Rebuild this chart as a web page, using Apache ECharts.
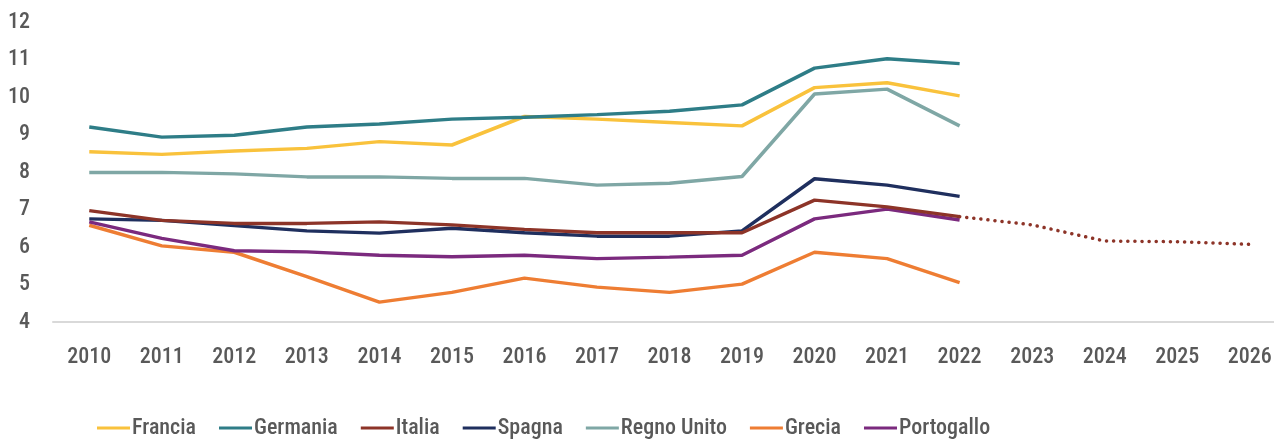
<!DOCTYPE html>
<html>
<head>
<meta charset="utf-8">
<script src="https://cdn.jsdelivr.net/npm/echarts@6/dist/echarts.min.js"></script>
<style>
  html, body { margin: 0; padding: 0; background: #fff; overflow: hidden; }
  /* a bit wider than the window: the last category band runs past the right edge */
  #chart { width: 1286px; height: 439px; }
</style>
</head>
<body>
<div id="chart"></div>
<script>
const years = ['2010', '2011', '2012', '2013', '2014', '2015', '2016', '2017', '2018',
  '2019', '2020', '2021', '2022', '2023', '2024', '2025', '2026'];

const francia = [8.54, 8.47, 8.56, 8.63, 8.81, 8.72, 9.48, 9.41, 9.32, 9.23, 10.25, 10.38, 10.03];
const germania = [9.2, 8.93, 8.98, 9.2, 9.28, 9.41, 9.46, 9.53, 9.62, 9.79, 10.77, 11.02, 10.89];
const italia = [6.97, 6.71, 6.63, 6.63, 6.67, 6.59, 6.47, 6.38, 6.38, 6.38, 7.25, 7.07, 6.81];
const italiaPrev = [null, null, null, null, null, null, null, null, null, null, null, null,
  6.81, 6.59, 6.16, 6.14, 6.07];
const spagna = [6.75, 6.71, 6.57, 6.43, 6.37, 6.5, 6.38, 6.29, 6.29, 6.43, 7.82, 7.65, 7.35];
const regnoUnito = [7.99, 7.99, 7.95, 7.87, 7.87, 7.83, 7.83, 7.65, 7.7, 7.88, 10.08, 10.21, 9.23];
const grecia = [6.58, 6.03, 5.86, 5.21, 4.53, 4.79, 5.17, 4.93, 4.79, 5.01, 5.86, 5.69, 5.05];
const portogallo = [6.67, 6.23, 5.9, 5.87, 5.78, 5.74, 5.78, 5.69, 5.73, 5.78, 6.75, 7.01, 6.72];

// condensed stretch goes into the font shorthand through fontWeight
const font = 'Roboto, sans-serif';
const stretch = '500 condensed';
const grey = '#595959';

function line(name, data, color, z) {
  return {
    name: name,
    type: 'line',
    data: data,
    symbol: 'none',
    z: z,
    itemStyle: { color: color },
    lineStyle: { color: color, width: 3.5 },
  };
}

const chart = echarts.init(document.getElementById('chart'));
chart.setOption({
  animation: false,
  grid: { left: 53, right: 0, top: 22, bottom: 117 },
  legend: {
    data: ['Francia', 'Germania', 'Italia', 'Spagna', 'Regno Unito', 'Grecia', 'Portogallo'],
    left: 97,
    top: 417,
    padding: 0,
    icon: 'rect',
    itemWidth: 33,
    itemHeight: 3,
    itemGap: 23,
    textStyle: { color: grey, fontFamily: font, fontWeight: stretch, fontSize: 22, padding: [0, 0, 0, -3] },
  },
  xAxis: {
    type: 'category',
    data: years,
    axisLine: { lineStyle: { color: '#d9d9d9', width: 2 } },
    axisTick: { show: false },
    axisLabel: { color: grey, fontFamily: font, fontWeight: stretch, fontSize: 22, margin: 24, interval: 0 },
  },
  yAxis: {
    type: 'value',
    min: 4,
    max: 12,
    interval: 1,
    axisLine: { show: false },
    axisTick: { show: false },
    splitLine: { show: false },
    axisLabel: { color: grey, fontFamily: font, fontWeight: stretch, fontSize: 22, margin: 23 },
  },
  series: [
    line('Francia', francia, '#f9c23c', 3),
    line('Germania', germania, '#2e7d87', 3),
    line('Italia', italia, '#8d3428', 4),
    {
      name: 'Italia previsione',
      type: 'line',
      data: italiaPrev,
      symbol: 'none',
      z: 4,
      lineStyle: { color: '#8d3428', width: 3.5, type: [0.1, 7], cap: 'round' },
    },
    line('Spagna', spagna, '#1f2f5e', 3),
    line('Regno Unito', regnoUnito, '#7fa7a5', 2),
    line('Grecia', grecia, '#ee7d33', 2),
    line('Portogallo', portogallo, '#7b2a7e', 3),
  ],
});
</script>
</body>
</html>
